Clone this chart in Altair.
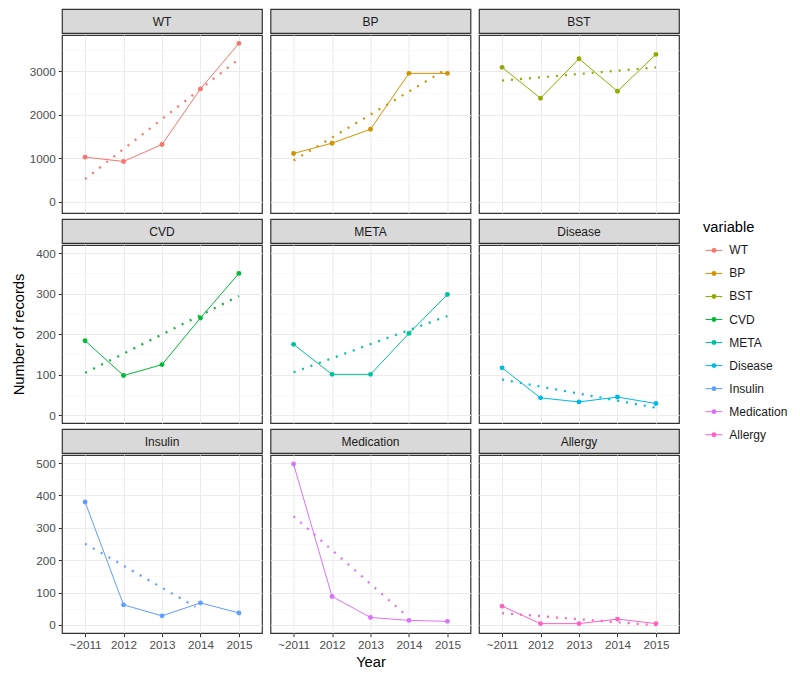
import json
import altair as alt
import pandas as pd

# ---------------- data ----------------
YEARS = ["~2011", "2012", "2013", "2014", "2015"]
VARIABLES = ["WT", "BP", "BST", "CVD", "META", "Disease", "Insulin", "Medication", "Allergy"]
COLORS = ["#F8766D", "#D39200", "#93AA00", "#00BA38", "#00C19F",
          "#00B9E3", "#619CFF", "#DB72FB", "#FF61C3"]

WT = [1025, 926, 1317, 2598, 3646]
BP = [1110, 1347, 1669, 2956, 2956]
BST = [3094, 2382, 3294, 2543, 3393]
CVD = [184, 98, 125, 240, 350]
META = [175, 101, 101, 202, 298]
DISEASE = [117, 43, 33, 45, 29]
INSULIN = [380, 62, 28, 68, 37]
MEDICATION = [497, 88, 23, 14, 11]
ALLERGY = [58, 4, 4, 18, 4]
SERIES = [WT, BP, BST, CVD, META, DISEASE, INSULIN, MEDICATION, ALLERGY]

# y axis ticks per facet row (major labelled, minor grid only)
ROW_TICKS = [[0, 1000, 2000, 3000], [0, 100, 200, 300, 400], [0, 100, 200, 300, 400, 500]]
ROW_MINOR = [[500, 1500, 2500, 3500], [50, 150, 250, 350], [50, 150, 250, 350, 450]]
ROW_DOMAIN = [[-262, 3840], [-19, 420], [-25, 525]]
# visible end of the dotted trend lines (x index)
REG_END = [5, 5, 5, 5, 5, 5, 3.87, 3.87, 5]

FONT = "Liberation Sans"
W, H, SH = 200, 178, 24


def panel(i):
    var = VARIABLES[i]
    r, c = divmod(i, 3)
    col = COLORS[i]
    df = pd.DataFrame({"idx": list(range(1, 6)), "year": YEARS,
                       "value": SERIES[i], "variable": var})
    major = ROW_TICKS[r]
    allv = sorted(major + ROW_MINOR[r])
    test = f"indexof({json.dumps(major)}, datum.value) >= 0"
    show_y = (c == 0)
    show_x = (r == 2)
    ykw = dict(
        values=allv,
        format="d",
        labelExpr=f"{test} ? datum.label : ''",
        labels=show_y,
        ticks=show_y,
        gridWidth={"condition": {"test": test, "value": 1.0}, "value": 0.5},
        gridColor={"condition": {"test": test, "value": "#EBEBEB"}, "value": "#F2F2F2"},
        domain=False,
        title=("Number of records" if (r == 1 and c == 0) else None),
    )
    if show_y:
        ykw["tickOpacity"] = {"condition": {"test": test, "value": 1}, "value": 0}
    else:
        ykw["tickSize"] = 0
        ykw["labelPadding"] = 0
    yaxis = alt.Axis(**ykw)
    xkw = dict(
        values=[1, 2, 3, 4, 5],
        labelExpr=f"{json.dumps(YEARS)}[datum.value - 1]",
        labels=show_x,
        ticks=show_x,
        domain=False,
        gridColor="#EBEBEB",
        gridWidth=1,
        title=("Year" if (r == 2 and c == 1) else None),
    )
    if not show_x:
        xkw["tickSize"] = 0
        xkw["labelPadding"] = 0
    xaxis = alt.Axis(**xkw)
    x = alt.X("idx:Q", scale=alt.Scale(domain=[0.4, 5.6], nice=False, zero=False), axis=xaxis)
    y = alt.Y("value:Q", scale=alt.Scale(domain=ROW_DOMAIN[r], nice=False, zero=False), axis=yaxis)

    base = alt.Chart(df)
    line = base.mark_line(strokeWidth=1, color=col).encode(x=x, y=y)
    pts = base.mark_point(filled=True, size=24, opacity=1, color=col).encode(x=x, y=y)
    reg = base.transform_regression("idx", "value", extent=[1, REG_END[i]]).mark_line(
        strokeDash=[2, 7], strokeWidth=2.2, strokeCap="butt", color=col
    ).encode(x=x, y=y)
    plot = alt.layer(line, reg, pts).properties(width=W, height=H)

    strip = alt.Chart(pd.DataFrame({"label": [var]})).mark_text(
        font=FONT, fontSize=12, color="#1A1A1A", baseline="middle", align="center"
    ).encode(
        text="label:N", x=alt.value(W / 2), y=alt.value(SH / 2 + 0.5)
    ).properties(width=W, height=SH,
                 view=alt.ViewBackground(fill="#D9D9D9", stroke="#333333", strokeWidth=1.2))
    return alt.vconcat(strip, plot, spacing=0)


panels = [panel(i) for i in range(9)]
grid = alt.concat(*panels, columns=3, spacing={"row": 4, "column": 6.5})

# ---------------- manual legend ----------------
leg_df = pd.DataFrame({"variable": VARIABLES})
ly = alt.Y("variable:N", sort=VARIABLES, axis=None,
           scale=alt.Scale(type="point", domain=VARIABLES, range=[241.4, 425.7], padding=0))
lc = alt.Color("variable:N", scale=alt.Scale(domain=VARIABLES, range=COLORS), legend=None)
lrule = alt.Chart(leg_df).mark_rule(strokeWidth=1).encode(
    x=alt.value(2.5), x2=alt.value(19.3), y=ly, color=lc)
ldot = alt.Chart(leg_df).mark_point(filled=True, size=24, opacity=1).encode(
    x=alt.value(11), y=ly, color=lc)
ltext = alt.Chart(leg_df).mark_text(
    align="left", baseline="middle", font=FONT, fontSize=12, color="#1A1A1A"
).encode(x=alt.value(26.3), y=ly, text="variable:N")
ltitle = alt.Chart(pd.DataFrame({"t": ["variable"]})).mark_text(
    align="left", baseline="middle", font=FONT, fontSize=14.7, color="#000000"
).encode(x=alt.value(0), y=alt.value(218.7), text="t:N")
legend = alt.layer(lrule, ldot, ltext, ltitle).properties(
    width=85, height=440, view=alt.ViewBackground(stroke="transparent"))

chart = alt.hconcat(grid, legend, spacing=22).properties(
    padding={"left": 3, "top": 0, "right": 2, "bottom": 2}
).configure(font=FONT).configure_view(
    stroke="#333333", strokeWidth=1.2
).configure_axis(
    labelFont=FONT, labelFontSize=11.7, labelColor="#4D4D4D",
    tickColor="#333333", tickSize=3.7, tickWidth=1,
    titleFont=FONT, titleFontSize=14.7, titleColor="#000000", titleFontWeight="normal",
).configure_axisY(
    labelPadding=3, titlePadding=9
).configure_axisX(
    labelPadding=2.5, titlePadding=4
)

chart.save("out.html", embed_options={"renderer": "svg", "actions": False})
